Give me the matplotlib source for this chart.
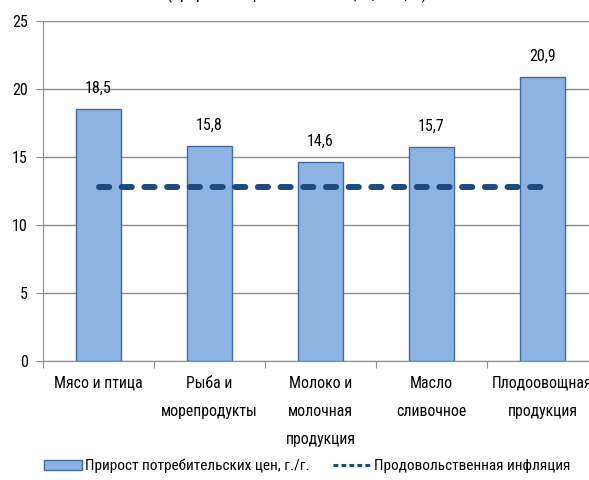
import numpy as np
import matplotlib.pyplot as plt
from matplotlib.font_manager import fontManager

categories = ["Мясо и птица", "Рыба и\nморепродукты", "Молоко и\nмолочная\nпродукция",
              "Масло\nсливочное", "Плодоовощная\nпродукция"]
price_growth = [18.5, 15.8, 14.6, 15.7, 20.9]
food_inflation = [12.8, 12.8, 12.8, 12.8, 12.8]
value_labels = ["18,5", "15,8", "14,6", "15,7", "20,9"]

names = {f.name for f in fontManager.ttflist}
fam = [f for f in ["Liberation Sans Narrow", "Roboto Condensed"] if f in names] + ["DejaVu Sans"]
plt.rcParams['font.family'] = fam

fig = plt.figure(figsize=(5.89, 4.80), dpi=100)
ax = fig.add_axes([43 / 589, 1 - 361 / 480, 555 / 589, 340 / 480])

x = np.arange(len(categories))
bars = ax.bar(x, price_growth, width=0.4, color="#8DB3E2", edgecolor="#3F6AA5", linewidth=1.0,
              zorder=3)
line, = ax.plot(x, food_inflation, color="#1F4A7D", linewidth=4.3, dashes=(1.7, 2.1),
                dash_capstyle="round", zorder=4)

for xi, v, s in zip(x, price_growth, value_labels):
    ax.annotate(s, (xi, v), xytext=(0, 15), textcoords="offset points",
                ha="center", va="center", fontsize=11.5)

ax.set_xlim(-0.5, 4.5)
ax.set_ylim(0, 25)
ax.set_yticks(np.arange(0, 26, 5))
ax.yaxis.grid(True, color="#8C8C8C", linewidth=1.0, zorder=0)
ax.set_axisbelow(True)
for s in ["top", "right"]:
    ax.spines[s].set_visible(False)
ax.spines["left"].set_color("#8C8C8C")
ax.spines["bottom"].set_color("#8C8C8C")
ax.tick_params(axis="y", length=5, color="#8C8C8C", labelsize=11.5, pad=6)

ax.set_xticks(np.arange(-0.5, 5.0, 1.0))
ax.set_xticklabels([])
ax.tick_params(axis="x", length=5, color="#8C8C8C")
ax.set_xticks(x, minor=True)
ax.set_xticklabels(categories, minor=True, fontsize=11.3, linespacing=2.12, va="top")
ax.tick_params(axis="x", which="minor", length=0, pad=10.5)

fig.text(297 / 589, 1 + 1 / 480, "(прирост потребительских цен, г./г., %)", ha="center",
         va="baseline", fontsize=11.5)

leg_line, = ax.plot([], [], color="#1F4A7D", linewidth=2.2, dashes=(1.6, 1.0))
fig.legend([bars, leg_line],
           ["Прирост потребительских цен, г./г.", "Продовольственная инфляция"],
           loc="center", bbox_to_anchor=(307 / 589, 1 - 466 / 480), ncol=2, frameon=False,
           fontsize=11, handlelength=2.5, handletextpad=0.2, columnspacing=1.5)

fig.savefig("out.png", dpi=100)
